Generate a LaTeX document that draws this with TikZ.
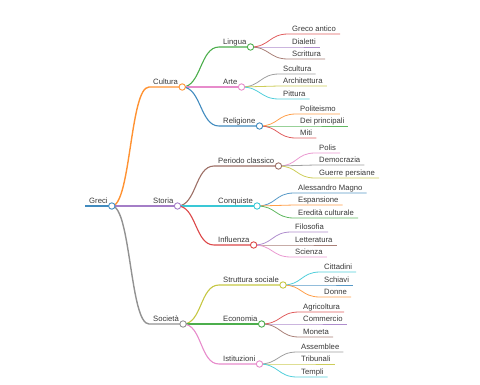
\documentclass[tikz,border=0pt]{standalone}
\usepackage{fontspec}
\setmainfont{Liberation Sans}
\definecolor{cblue}{HTML}{1F77B4}
\definecolor{corange}{HTML}{FF7F0E}
\definecolor{cgreen}{HTML}{2CA02C}
\definecolor{cred}{HTML}{D62728}
\definecolor{cpurple}{HTML}{9467BD}
\definecolor{cbrown}{HTML}{8C564B}
\definecolor{cpink}{HTML}{E377C2}
\definecolor{cgray}{HTML}{7F7F7F}
\definecolor{colive}{HTML}{BCBD22}
\definecolor{ccyan}{HTML}{17BECF}
\begin{document}
\begin{tikzpicture}[x=1pt,y=-1pt,
    topic/.style={font=\fontsize{7.7}{9}\selectfont,text=black!78,anchor=south west,
      inner xsep=4pt,inner ysep=0.6pt,text height=5.6pt,text depth=1.8pt},
    knot/.style={circle,draw,fill=white,line width=0.9pt,minimum size=6.4pt,inner sep=0pt}]
  \useasboundingbox (0,0) rectangle (480,384);
  % radice
  \node[topic] (greci) at (85,206) {Greci};
  \draw[cblue!85,line width=1.5pt] (greci.south west) -- (greci.south east);
  % primo livello
  \foreach \up/\nm/\x/\y/\col/\txt in {greci/cultura/149/87/corange/Cultura,
      greci/storia/149/206/cpurple/Storia, greci/societa/149/324/cgray/Società}{
    \node[topic] (\nm) at (\x,\y) {\txt};
    \draw[color=\col!85,line width=1.4pt] (\up.south east) .. controls +(19,0) and +(-19,0) .. (\nm.south west) -- (\nm.south east);
  }
  % secondo livello
  \foreach \up/\nm/\x/\y/\col/\txt in {cultura/lingua/219/47/cgreen/Lingua,
      cultura/arte/219/87/cpink/Arte, cultura/religione/219/126/cblue/Religione,
      storia/periodo/214/166/cbrown/Periodo classico, storia/conquiste/214/206/ccyan/Conquiste,
      storia/influenza/214/245/cred/Influenza,
      societa/struttura/219/285/colive/Struttura sociale, societa/economia/219/324/cgreen/Economia,
      societa/istituzioni/219/364/cpink/Istituzioni}{
    \node[topic] (\nm) at (\x,\y) {\txt};
    \draw[color=\col!85,line width=1.1pt] (\up.south east) .. controls +(19,0) and +(-19,0) .. (\nm.south west) -- (\nm.south east);
  }
  % foglie
  \foreach \up/\nm/\x/\y/\col/\txt in {lingua/greco/288/34/cred/Greco antico,
      lingua/dialetti/288/47/cpurple/Dialetti, lingua/scrittura/288/59/cbrown/Scrittura,
      arte/scultura/279/74/cgray/Scultura, arte/architettura/279/86/colive/Architettura,
      arte/pittura/279/99/ccyan/Pittura,
      religione/politeismo/296/114/corange/Politeismo, religione/dei/296/126/cgreen/Dei principali,
      religione/miti/296/138/cred/Miti,
      periodo/polis/315/153/cpink/Polis, periodo/democrazia/315/165/cgray/Democrazia,
      periodo/guerre/315/178/colive/Guerre persiane,
      conquiste/alessandro/294/193/cblue/Alessandro Magno, conquiste/espansione/294/205/corange/Espansione,
      conquiste/eredita/294/218/cgreen/Eredità culturale,
      influenza/filosofia/291/232/cpurple/Filosofia, influenza/letteratura/291/245/cbrown/Letteratura,
      influenza/scienza/291/257/cpink/Scienza,
      struttura/cittadini/320/272/ccyan/Cittadini, struttura/schiavi/320/285/cblue/Schiavi,
      struttura/donne/320/297/corange/Donne,
      economia/agricoltura/299/312/cred/Agricoltura, economia/commercio/299/324/cpurple/Commercio,
      economia/moneta/299/337/cbrown/Moneta,
      istituzioni/assemblee/297/352/cgray/Assemblee, istituzioni/tribunali/297/364/colive/Tribunali,
      istituzioni/templi/297/377/ccyan/Templi}{
    \node[topic] (\nm) at (\x,\y) {\txt};
    \draw[color=\col!75,line width=0.8pt] (\up.south east) .. controls +(19,0) and +(-19,0) .. (\nm.south west) -- (\nm.south east);
  }
  % cerchi dei nodi interni
  \foreach \nm/\col in {greci/cblue, cultura/corange, storia/cpurple, societa/cgray,
      lingua/cgreen, arte/cpink, religione/cblue, periodo/cbrown, conquiste/ccyan,
      influenza/cred, struttura/colive, economia/cgreen, istituzioni/cpink}{
    \node[knot,draw=\col!85] (\nm-knot) at (\nm.south east) {};
  }
\end{tikzpicture}
\end{document}
